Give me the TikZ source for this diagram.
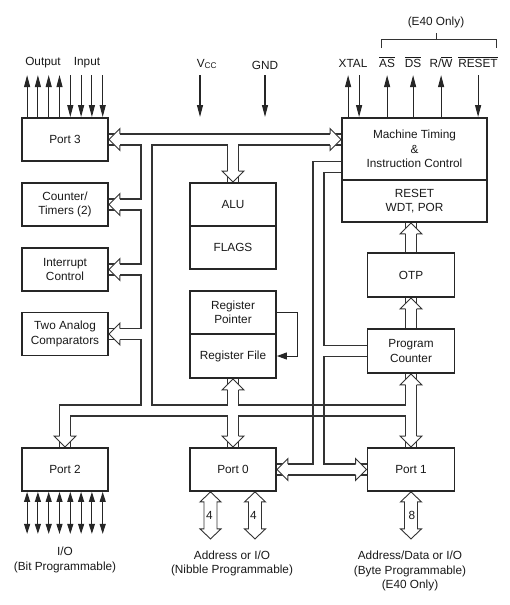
\documentclass[tikz,border=0pt]{standalone}
\usepackage{fontspec}
\setmainfont{Liberation Sans}
\usetikzlibrary{arrows.meta,backgrounds}

\tikzset{
  blk/.style={draw=black!85,line width=1.8pt,minimum width=86pt,minimum height=43pt,align=center,inner sep=1pt},
  sig/.style={draw=black!85,line width=1.1pt,-{Triangle[length=12pt,width=6pt]}},
  sigin/.style={draw=black!85,line width=1.1pt,{Triangle[length=12pt,width=6pt]}-},
  sigio/.style={draw=black!85,line width=1.1pt,{Triangle[length=10pt,width=6pt]}-{Triangle[length=10pt,width=6pt]}},
  bus/.style={draw=white,line width=9.9pt,line join=miter,preaction={draw=black!80,line width=12.1pt,line join=miter}},
  busline/.style={draw=black!80,line width=0.9pt},
  hhead/.pic={\filldraw[busline,fill=white,line join=miter] (-11,-5.5) -- (-11,-11) -- (0,0) -- (-11,11) -- (-11,5.5);},
  dhead/.pic={\filldraw[busline,fill=white,line join=miter] (0,0) -- (10.5,10) -- (6.5,10) -- (6.5,37) -- (10.5,37) -- (0,47) -- (-10.5,37) -- (-6.5,37) -- (-6.5,10) -- (-10.5,10) -- cycle;}
}

\begin{document}
\begin{tikzpicture}[x=1pt,y=-1pt,font=\fontsize{11.8}{14.5}\selectfont,text=black!90]
  \useasboundingbox (0,0) rectangle (509,605);
  \node[blk] (port3) at (65,139.5) {Port 3};
  \node[blk] (ctr) at (65,204.5) {Counter/\\Timers (2)};
  \node[blk] (intr) at (65,269.5) {Interrupt\\Control};
  \node[blk] (cmp) at (65,334) {Two Analog\\Comparators};
  \node[blk] (port2) at (65,469.5) {Port 2};
  \node[blk] (alu) at (233,204.5) {ALU};
  \node[blk] (flags) at (233,247.5) {FLAGS};
  \node[blk] (rp) at (233,312.5) {Register\\Pointer};
  \node[blk,minimum height=44pt] (rf) at (233,356) {Register File};
  \node[blk] (port0) at (233,469.5) {Port 0};
  \node[blk,minimum width=145pt,minimum height=62pt] (mt) at (414.5,149) {Machine Timing\\\&\\Instruction Control};
  \node[blk,minimum width=145pt,minimum height=42pt] (rst) at (414.5,201) {RESET\\WDT, POR};
  \node[blk,minimum width=87pt,minimum height=44pt] (otp) at (411,275) {OTP};
  \node[blk,minimum width=87pt,minimum height=44pt] (pc) at (411,351) {Program\\Counter};
  \node[blk,minimum width=87pt] (port1) at (411,469.5) {Port 1};

  \coordinate (lv) at (146.5,139.5);
  \coordinate (lb) at (146.5,410.5);
  \coordinate (rv) at (318.5,167);

  \begin{scope}[on background layer]
    \draw[bus] (port3.east) -- (mt.west |- port3.east)
      (lv) -- (lb)
      (alu.north |- lv) -- (alu.north)
      (ctr.east) -- (ctr.east -| lv)
      (intr.east) -- (intr.east -| lv)
      (cmp.east) -- (cmp.east -| lv)
      (port2.north) -- (port2.north |- lb) -- (lb -| pc.south)
      (rf.south) -- (port0.north)
      (pc.south) -- (port1.north)
      (otp.north) -- (otp.north |- rst.south)
      (pc.north) -- (otp.south);
    \foreach \n in {port3,ctr,intr,cmp} \pic[rotate=180] at (\n.east) {hhead};
    \pic at (mt.west |- port3.east) {hhead};
    \foreach \n in {alu,port2,port0,port1} \pic[rotate=-90] at (\n.north) {hhead};
    \foreach \n in {rf,pc} \pic[rotate=90] at (\n.south) {hhead};
    \pic[rotate=90] at (otp.north |- rst.south) {hhead};
    \pic[rotate=90] at (otp.south) {hhead};
    \draw[bus] (mt.west |- rv) -- (rv) -- (rv |- port0.east)
      (port0.east) -- (port1.west)
      (pc.west) -- (pc.west -| rv);
    \pic[rotate=180] at (port0.east) {hhead};
    \pic at (port1.west) {hhead};
    \draw[busline,line width=1.1pt] (310,405) -- (327,405) (310,416) -- (327,416);
    \foreach \dx in {-22.5,22} \pic at ([xshift=\dx]port0.south) {dhead};
    \pic at (port1.south) {dhead};
  \end{scope}
  \node (w0a) at (209.5,515) {4};
  \node (w0b) at (253.5,515) {4};
  \node (w1) at (412,515) {8};

  \foreach \i in {0,...,3} \draw[sig] ([xshift={6+10.8*\i}]port3.north west) -- ++(0,-42);
  \foreach \i in {4,...,7} \draw[sigin] ([xshift={6+10.8*\i}]port3.north west) -- ++(0,-42);
  \foreach \i in {0,...,7} \draw[sigio] ([xshift={6+10.8*\i}]port2.south west) -- ++(0,42);
  \foreach \dx in {7,46,72,100} \draw[sig] ([xshift=\dx]mt.north west) -- ++(0,-42);
  \foreach \dx in {18,137} \draw[sigin] ([xshift=\dx]mt.north west) -- ++(0,-42);
  \draw[draw=black!85,line width=1pt,-{Triangle[length=10pt,width=7pt]}] (rp.east) -- ++(21,0) |- (rf.east);

  \coordinate (vcctop) at (200,75);
  \coordinate (gndtop) at (265,75);
  \draw[sig] (vcctop) -- ++(0,42);
  \draw[sig] (gndtop) -- ++(0,42);
  \draw[busline,line width=1pt] (381,48) |- (496,39) -- (496,48) (436,39) -- (436,33);

  \node (out) at (43,63) {Output};
  \node (in) at (87,63) {Input};
  \node (vcc) at (207,64) {V\textsubscript{CC}};
  \node (gnd) at (265,65) {GND};
  \node (xtal) at (353,63) {XTAL};
  \node (as) at (387,62) {$\overline{\hbox{AS}}$};
  \node (ds) at (413,62) {$\overline{\hbox{DS}}$};
  \node (rw) at (441,62) {R/$\overline{\hbox{W}}$};
  \node (reset) at (478,62) {$\overline{\hbox{RESET}}$};
  \node (e40) at (436,22) {(E40 Only)};
  \node[align=center] (io2) at (65,560) {I/O\\(Bit Programmable)};
  \node[align=center] (io0) at (232,563.5) {Address or I/O\\(Nibble Programmable)};
  \node[align=center] (io1) at (410,571) {Address/Data or I/O\\(Byte Programmable)\\(E40 Only)};
\end{tikzpicture}
\end{document}
